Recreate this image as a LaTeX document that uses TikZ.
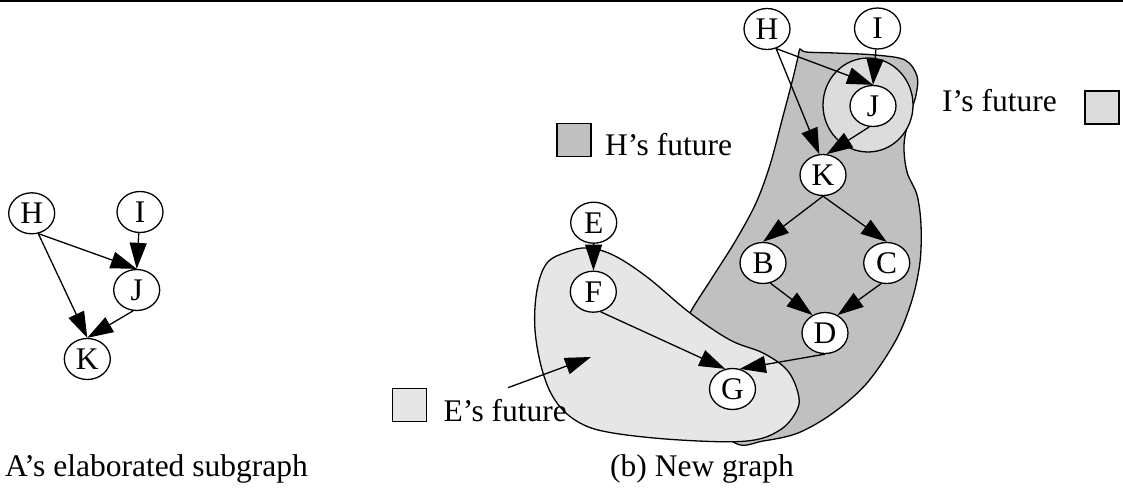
\documentclass[tikz,border=0pt]{standalone}
\usepackage{fontspec}
\setmainfont{Liberation Serif}
\usetikzlibrary{arrows.meta,positioning,shapes.geometric}
\definecolor{hgray}{RGB}{192,192,192}
\definecolor{egray}{RGB}{230,230,230}
\definecolor{igray}{RGB}{220,220,220}
\newcommand{\futurekey}[5]{
  \node[keybox,fill=#1] (#2box) at (#3) {};
  \node[keytext,anchor=base west] (#2key) at (#4) {#5};
}

\begin{document}
\begin{tikzpicture}[x=1pt,y=-1pt,
  every node/.style={font=\fontsize{31.5}{36}\selectfont},
  vertex/.style={draw,ellipse,fill=white,line width=1.3pt,minimum width=46pt,minimum height=41pt,inner sep=0pt},
  dep/.style={line width=1.3pt,-{Triangle[length=26pt,width=17pt]}},
  keybox/.style={draw,line width=1.3pt,minimum width=34pt,minimum height=33pt,inner sep=0pt},
  keytext/.style={inner sep=0pt},
  region/.style={draw,line width=1.3pt}]
  \useasboundingbox (0,0) rectangle (1123,487);
  \draw[line width=2pt] (0,1.5) -- (1123,1.5);

  \draw[region,fill=hgray] plot[smooth cycle,tension=0.55] coordinates {
    (800,49) (806,52) (835,53) (875,55) (905,60) (917,76) (916,95) (909,118)
    (904,145) (907,172) (917,195) (921,225) (920,262) (912,300) (896,340)
    (867,383) (833,413) (798,433) (763,441) (735,443) (700,405) (680,340)
    (690,313) (712,278) (736,240) (756,203) (770,165) (782,120) (792,82)
    (798,57)};
  \draw[region,fill=egray] plot[smooth cycle,tension=0.6] coordinates {
    (587,248) (613,255) (647,277) (690,313) (730,340) (763,353) (787,370)
    (798,393) (797,410) (780,430) (747,441) (680,440) (613,433) (580,423)
    (557,403) (543,373) (535,330) (537,290) (547,263) (567,252)};
  \draw[region,fill=igray] (868,105) ellipse [x radius=45pt,y radius=47pt];

  \node[vertex] (hl) at (31.7,213.3) {H};
  \node[vertex] (il) at (140,212) {I};
  \node[vertex] (jl) at (136.7,290) {J};
  \node[vertex] (kl) at (87.3,359) {K};

  \node[vertex] (hr) at (767,29) {H};
  \node[vertex] (ir) at (877.5,28.5) {I};
  \node[vertex] (jr) at (873,106) {J};
  \node[vertex] (kr) at (823,175) {K};
  \node[vertex] (br) at (763,263) {B};
  \node[vertex] (cr) at (886.7,263) {C};
  \node[vertex] (dr) at (825,333) {D};
  \node[vertex] (er) at (593.7,222.7) {E};
  \node[vertex] (fr) at (593.3,291.7) {F};
  \node[vertex] (gr) at (732.5,389) {G};

  \draw[dep] (hl.-72) -- (jl.north);
  \draw[dep] (hl.-72) -- (kl.north);
  \draw[dep] (il) -- (jl.north);
  \draw[dep] (jl.-100) -- (kl.north);

  \draw[dep] (hr.-65) -- (jr.north);
  \draw[dep] (ir) -- (jr.north);
  \draw[dep] (hr.-65) -- (kr.100);
  \draw[dep] (jr.-100) -- (kr.80);
  \draw[dep] (kr.south) -- (br.north);
  \draw[dep] (kr.south) -- (cr.north);
  \draw[dep] (br.-70) -- (dr.125);
  \draw[dep] (cr.-105) -- (dr.55);
  \draw[dep] (dr.south) -- (gr.70);
  \draw[dep] (er) -- (fr);
  \draw[dep] (fr.-70) -- (gr.110);

  \futurekey{hgray}{h}{574,140}{605,155}{H's future}
  \futurekey{igray}{i}{1102,107.5}{942,111.7}{I's future}
  \futurekey{egray}{e}{409.7,405}{443.3,421}{E's future}
  \coordinate (ehead) at (591,357);
  \draw[dep] ([xshift=3pt,yshift=11pt]ekey.north) -- (ehead);

  \node[keytext,anchor=base west] (capa) at (5,476.7) {A's elaborated subgraph};
  \node[keytext,anchor=base west] (capb) at (610,476.7) {(b) New graph};
\end{tikzpicture}
\end{document}
